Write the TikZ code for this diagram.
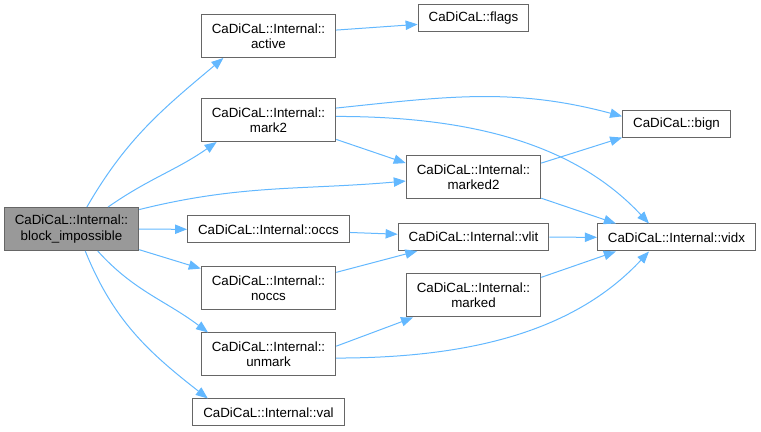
\documentclass[tikz,border=0pt]{standalone}
\usepackage{fontspec}
\setmainfont{Liberation Sans}
\usetikzlibrary{arrows.meta}
\definecolor{edgeblue}{HTML}{63B8FF}
\definecolor{boxgray}{HTML}{666666}
\definecolor{rootgray}{HTML}{999999}
\begin{document}
\begin{tikzpicture}[x=0.75pt,y=0.75pt,
  fn/.style={draw=boxgray,fill=white,line width=0.75pt,inner xsep=7.9pt,inner ysep=0pt,
    minimum height=20.25pt,align=center,font=\fontsize{10}{11.5}\selectfont},
  fntwo/.style={fn,minimum height=32.25pt},
  call/.style={draw=edgeblue,line width=0.75pt,-{Triangle[length=9pt,width=7pt]}}]
\useasboundingbox (0,0) rectangle (761,432);

\node[fntwo,fill=rootgray] (blk) at (71.5,203) {CaDiCaL::Internal::\\block\_impossible};
\node[fntwo] (active) at (268.5,396) {CaDiCaL::Internal::\\active};
\node[fn] (flags) at (473.5,413.5) {CaDiCaL::flags};
\node[fntwo] (mark2) at (268.5,312) {CaDiCaL::Internal::\\mark2};
\node[fn] (bign) at (676.5,308) {CaDiCaL::bign};
\node[fntwo] (marked2) at (473.5,254.5) {CaDiCaL::Internal::\\marked2};
\node[fn] (occs) at (268.5,202.5) {CaDiCaL::Internal::occs};
\node[fn] (vlit) at (473.5,195) {CaDiCaL::Internal::vlit};
\node[fn] (vidx) at (676.5,194.5) {CaDiCaL::Internal::vidx};
\node[fntwo] (noccs) at (268.5,144) {CaDiCaL::Internal::\\noccs};
\node[fntwo] (marked) at (473.5,136.5) {CaDiCaL::Internal::\\marked};
\node[fntwo] (unmark) at (268.5,77.5) {CaDiCaL::Internal::\\unmark};
\node[fn] (val) at (268.5,19.5) {CaDiCaL::Internal::val};

\draw[call] (blk.55) to[out=60,in=-140] (active.-154);
\draw[call] (blk.31) to[out=35,in=-145] (mark2.-157);
\draw[call] (blk.16) to[out=14,in=185] (marked2.-177);
\draw[call] (blk) -- (occs);
\draw[call] (blk.-17) -- (noccs.164);
\draw[call] (blk.-40) to[out=-48,in=143] (unmark.160);
\draw[call] (blk.-58) to[out=-68,in=142] (val.167);

\draw[call] (active.5) -- (flags.-174);
\draw[call] (mark2.10) to[out=6,in=165] (bign.172);
\draw[call] (mark2.3) .. controls +(145,0) and +(-70,75) .. (vidx.153);
\draw[call] (mark2.-16) -- (marked2.168);
\draw[call] (marked2.12) -- (bign.-166);
\draw[call] (marked2.-17) -- (vidx.167);
\draw[call] (occs) -- (vlit);
\draw[call] (vlit) -- (vidx);
\draw[call] (noccs.13) -- (vlit.-166);
\draw[call] (marked.15) -- (vidx.-167);
\draw[call] (unmark.7) -- (marked.-160);
\draw[call] (unmark.-3) .. controls +(145,0) and +(-70,-75) .. (vidx.-153);
\end{tikzpicture}
\end{document}
